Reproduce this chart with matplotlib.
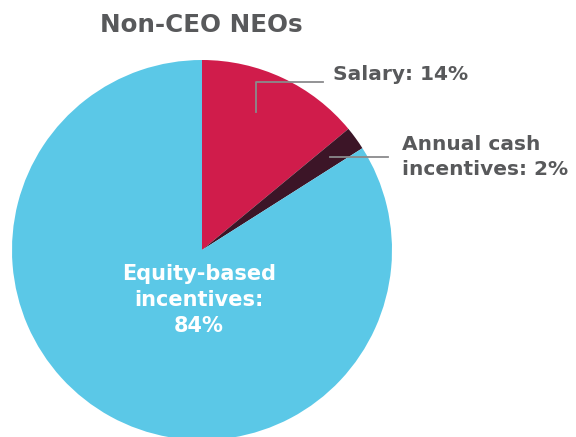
import matplotlib.pyplot as plt

# pay mix for non-CEO NEOs (percent)
segments = ["Salary", "Annual cash incentives", "Equity-based incentives"]
shares = [14, 2, 84]
colors = ["#D01C4B", "#3C1527", "#5BC8E7"]
title = "Non-CEO NEOs"

W, H = 576, 437
fig = plt.figure(figsize=(W / 100, H / 100), dpi=100)
ax = fig.add_axes([0, 0, 1, 1])

def py(y):
    # pixel row (from top) -> data y
    return H - y

ax.pie(shares, colors=colors, startangle=90, counterclock=False,
       center=(202, py(250)), radius=190, frame=True,
       wedgeprops=dict(linewidth=0))
ax.set_xlim(0, W)
ax.set_ylim(0, H)
ax.set_aspect("equal")
ax.axis("off")

font = "DejaVu Sans"
gray = "#58595B"

ax.text(201, py(25), title, ha="center", va="center", fontsize=17.7,
        fontweight="bold", color=gray, family=font)

# salary label + leader
ax.plot([256, 256, 323], [py(112), py(82), py(82)], color="#8A8A8C", lw=1.3)
ax.text(333, py(75), f"{segments[0]}: {shares[0]}%", ha="left", va="center",
        fontsize=14.5, fontweight="bold", color=gray, family=font)

# annual cash label + leader
ax.plot([330, 388], [py(157), py(157)], color="#8A8A8C", lw=1.3)
ax.text(402, py(157), f"Annual cash\nincentives: {shares[1]}%", ha="left",
        va="center", fontsize=14.5, fontweight="bold", color=gray,
        family=font, linespacing=1.42)

# equity label inside the pie
ax.text(199, py(300), f"Equity-based\nincentives:\n{shares[2]}%", ha="center",
        va="center", fontsize=15, fontweight="bold", color="white",
        family=font, linespacing=1.38)

fig.savefig("out.png", dpi=100)
